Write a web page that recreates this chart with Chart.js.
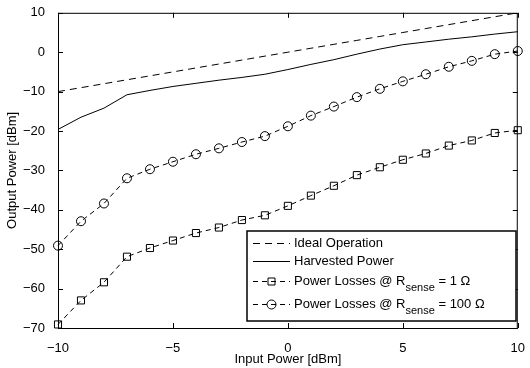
<!DOCTYPE html>
<html>
<head>
<meta charset="utf-8">
<script src="https://cdn.jsdelivr.net/npm/chart.js@4"></script>
<style>
  html, body { margin: 0; padding: 0; background: #fff; }
  #wrap { width: 530px; height: 368px; }
</style>
</head>
<body>
<div id="wrap"><canvas id="grafico" width="530" height="368"></canvas></div>
<script>
// dados
const inputPower = [-10, -9, -8, -7, -6, -5, -4, -3, -2, -1, 0, 1, 2, 3, 4, 5, 6, 7, 8, 9, 10];
const idealOperation = [-10, -9, -8, -7, -6, -5, -4, -3, -2, -1, 0, 1, 2, 3, 4, 5, 6, 7, 8, 9, 10];
const harvestedPower = [-19.6, -16.5, -14.2, -10.8, -9.7, -8.7, -7.9, -7.1, -6.4, -5.6, -4.4, -3.1, -1.9, -0.5, 0.8, 1.9, 2.6, 3.3, 3.9, 4.6, 5.2];
const losses1Ohm = [-69.1, -63, -58.4, -51.9, -49.7, -47.8, -45.9, -44.5, -42.6, -41.4, -39, -36.4, -33.9, -31.2, -29.2, -27.3, -25.7, -23.7, -22.4, -20.5, -19.8];
const losses100Ohm = [-49.1, -42.9, -38.4, -32, -29.7, -27.8, -25.9, -24.4, -22.8, -21.3, -18.8, -16.1, -13.8, -11.4, -9.3, -7.4, -5.6, -3.7, -2.2, -0.5, 0.3];
const xTicks = [-10, -5, 0, 5, 10];
const yTicks = [-70, -60, -50, -40, -30, -20, -10, 0, 10];

const fonte = '"Liberation Sans", Arial, Helvetica, sans-serif';
const pts = arr => arr.map((v, i) => ({ x: inputPower[i], y: v }));
const menos = v => (v < 0 ? '\u2212' + Math.abs(v) : String(v));

// legenda com subscrito
const legenda = [
  { partes: [['Ideal Operation', false]] },
  { partes: [['Harvested Power', false]] },
  { partes: [['Power Losses @ R', false], ['sense', true], [' = 1 \u03A9', false]] },
  { partes: [['Power Losses @ R', false], ['sense', true], [' = 100 \u03A9', false]] }
];

const molduraPlugin = {
  id: 'moldura',
  afterDatasetsDraw(chart) {
    const { ctx, chartArea: a, scales } = chart;
    ctx.save();
    ctx.strokeStyle = '#000';
    ctx.lineWidth = 1;
    ctx.setLineDash([]);
    ctx.strokeRect(a.left + 0.5, a.top + 0.5, a.right - a.left - 1, a.bottom - a.top);
    ctx.beginPath();
    xTicks.forEach(t => {
      const px = Math.round(scales.x.getPixelForValue(t)) + 0.5;
      ctx.moveTo(px, a.bottom); ctx.lineTo(px, a.bottom - 5);
      ctx.moveTo(px, a.top); ctx.lineTo(px, a.top + 5);
    });
    yTicks.forEach(t => {
      const py = Math.round(scales.y.getPixelForValue(t)) + 0.5;
      ctx.moveTo(a.left, py); ctx.lineTo(a.left + 5, py);
      ctx.moveTo(a.right, py); ctx.lineTo(a.right - 5, py);
    });
    ctx.stroke();

    // caixa da legenda
    const bx = 247, by = 231, bw = 269, bh = 90;
    ctx.fillStyle = '#fff';
    ctx.fillRect(bx, by, bw, bh);
    ctx.lineWidth = 1.5;
    ctx.strokeRect(bx, by, bw, bh);
    const linhas = [243, 261, 281, 304];
    chart.data.datasets.forEach((ds, i) => {
      const y = linhas[i] + 0.5;
      ctx.lineWidth = 1;
      ctx.strokeStyle = '#000';
      ctx.setLineDash(ds.borderDash || []);
      ctx.beginPath();
      ctx.moveTo(253, y); ctx.lineTo(290, y);
      ctx.stroke();
      ctx.setLineDash([]);
      if (ds.pointRadius > 0) {
        ctx.beginPath();
        if (ds.pointStyle === 'rect') {
          ctx.rect(268, y - 3.5, 7, 7);
        } else {
          ctx.arc(271.5, y, 4.5, 0, Math.PI * 2);
        }
        ctx.stroke();
      }
      let x = 294;
      ctx.fillStyle = '#000';
      ctx.textBaseline = 'middle';
      ctx.textAlign = 'left';
      legenda[i].partes.forEach(([txt, sub]) => {
        ctx.font = (sub ? '11px ' : '13px ') + fonte;
        ctx.fillText(txt, x, sub ? y + 6 : y);
        x += ctx.measureText(txt).width;
      });
    });
    ctx.restore();
  }
};

const ctx = document.getElementById('grafico').getContext('2d');
const chart = new Chart(ctx, {
  type: 'line',
  data: {
    datasets: [
      { label: 'Ideal Operation', data: pts(idealOperation), borderColor: '#000', borderWidth: 1, borderDash: [7, 5], pointRadius: 0 },
      { label: 'Harvested Power', data: pts(harvestedPower), borderColor: '#000', borderWidth: 1, pointRadius: 0 },
      { label: 'Power Losses @ Rsense = 1 \u03A9', data: pts(losses1Ohm), borderColor: '#000', borderWidth: 1, borderDash: [5, 4],
        pointStyle: 'rect', pointRadius: 5, pointBorderColor: '#000', pointBackgroundColor: 'rgba(0,0,0,0)', pointBorderWidth: 1 },
      { label: 'Power Losses @ Rsense = 100 \u03A9', data: pts(losses100Ohm), borderColor: '#000', borderWidth: 1, borderDash: [5, 4],
        pointStyle: 'circle', pointRadius: 4.5, pointBorderColor: '#000', pointBackgroundColor: 'rgba(0,0,0,0)', pointBorderWidth: 1 }
    ].map(d => Object.assign(d, { fill: false, tension: 0, clip: false }))
  },
  options: {
    responsive: false,
    animation: false,
    layout: { padding: { left: 0, top: 11, right: 7, bottom: 0 } },
    plugins: { legend: { display: false }, tooltip: { enabled: false } },
    scales: {
      x: {
        type: 'linear', min: -10, max: 10,
        afterBuildTicks: s => { s.ticks = xTicks.map(v => ({ value: v })); },
        afterFit: s => { s.height = 40; },
        grid: { display: false },
        border: { display: false },
        ticks: { color: '#000', padding: 5, maxRotation: 0, font: { family: fonte, size: 13 }, callback: menos },
        title: { display: true, text: 'Input Power [dBm]', color: '#000', padding: { top: 0, bottom: 1 }, font: { family: fonte, size: 13 } }
      },
      y: {
        type: 'linear', min: -70, max: 10,
        afterBuildTicks: s => { s.ticks = yTicks.map(v => ({ value: v })); },
        afterFit: s => { s.width = 58; },
        grid: { display: false },
        border: { display: false },
        ticks: { color: '#000', padding: 5, font: { family: fonte, size: 13 }, callback: menos },
        title: { display: true, text: 'Output Power [dBm]', color: '#000', padding: { top: 5, bottom: 0 }, font: { family: fonte, size: 13 } }
      }
    }
  },
  plugins: [molduraPlugin]
});
</script>
</body>
</html>
